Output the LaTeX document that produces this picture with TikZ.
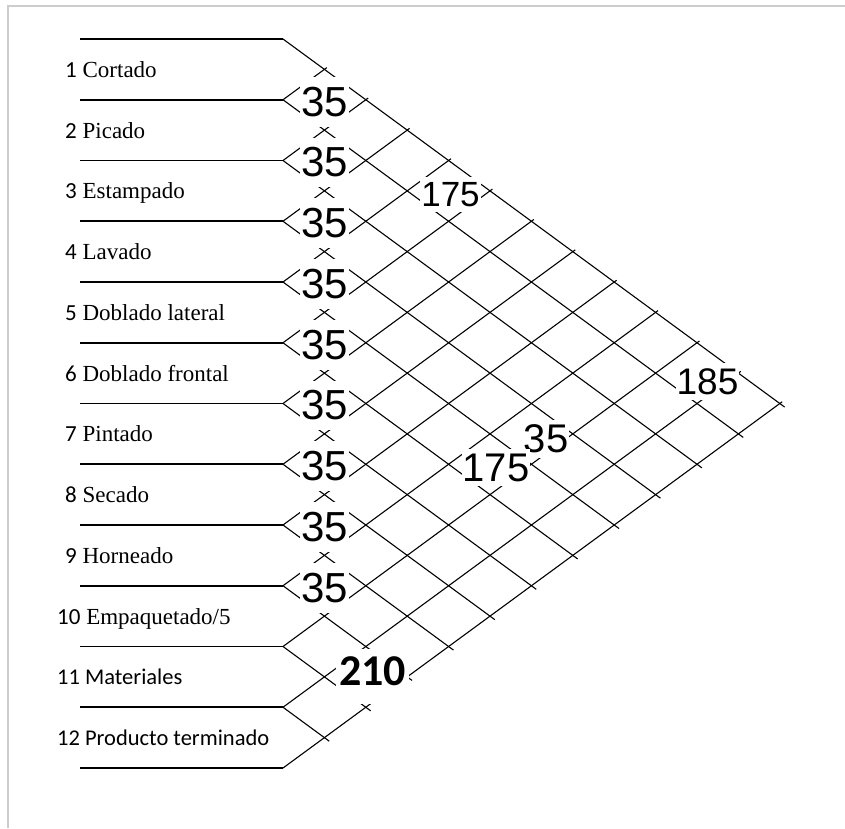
\documentclass[tikz,border=0pt]{standalone}
\usepackage{fontspec}
\setmainfont{Liberation Serif}
\newfontfamily\carlito{Carlito}
\newfontfamily\arialfont{Liberation Sans}
\tikzset{sepline/.style={line width=1.8pt},
  gridline/.style={line width=1.1pt},
  frameline/.style={line width=1.5pt,black!20},
  rowlabel/.style={anchor=base west,inner sep=0pt,font=\fontsize{23}{23}\selectfont},
  cellval/.style={fill=white,inner xsep=1pt,inner ysep=5pt,font=\arialfont\fontsize{#1}{#1}\selectfont},
  cellval/.default=42}

\begin{document}
\begin{tikzpicture}[x=1pt,y=-1pt]
  \path[use as bounding box] (0,0) rectangle (845,828);
  \draw[frameline] (8,828) -- (8,6) -- (845,6);
  % row separators
  \foreach \k in {0,...,12}{
    \coordinate (b\k) at (283,39+60.75*\k);
    \draw[sepline] (80,39+60.75*\k) -- (b\k);}
  % diagonal grid
  \foreach \k in {0,...,11}
    \draw[gridline,shorten >=-6pt] (b\k) -- ++({(12-\k)*41.4},{(12-\k)*30.375});
  \foreach \k in {1,...,12}
    \draw[gridline,shorten >=-3pt] (b\k) -- ++({\k*41.4},{-\k*30.375});
  % activities
  \foreach \n/\txt in {1/Cortado,2/Picado,3/Estampado,4/Lavado,5/Doblado lateral,
      6/Doblado frontal,7/Pintado,8/Secado,9/Horneado}
    \node[rowlabel] (r\n) at (65,{39+60.75*(\n-0.5)+8}) {{\carlito\n} \txt};
  \node[rowlabel] (r10) at (57,{39+60.75*9.5+8}) {{\carlito 10} Empaquetado/5};
  \node[rowlabel,font=\carlito\fontsize{22.5}{22.5}\selectfont] (r11) at (57,{39+60.75*10.5+8}) {11 Materiales};
  \node[rowlabel,font=\carlito\fontsize{22.5}{22.5}\selectfont] (r12) at (57,{39+60.75*11.5+8}) {12 Producto terminado};
  % values
  \foreach \k in {1,...,9}
    \node[cellval,inner ysep=10pt] (c\k) at (324.4,{39+60.75*\k+2}) {35};
  \node[cellval=35] (p1x5) at (450.5,194.5) {175};
  \node[cellval=37] (p1x11) at (707.5,381.5) {185};
  \node[cellval=40] (p4x10) at (546,439) {35};
  \node[cellval=40] (p5x10) at (496,467.5) {175};
  \node[cellval,font=\carlito\bfseries\fontsize{44}{44}\selectfont,anchor=base,
    inner xsep=3pt,inner ysep=7pt,text depth=12pt] (p10x12) at (372.5,685) {210};
\end{tikzpicture}
\end{document}
